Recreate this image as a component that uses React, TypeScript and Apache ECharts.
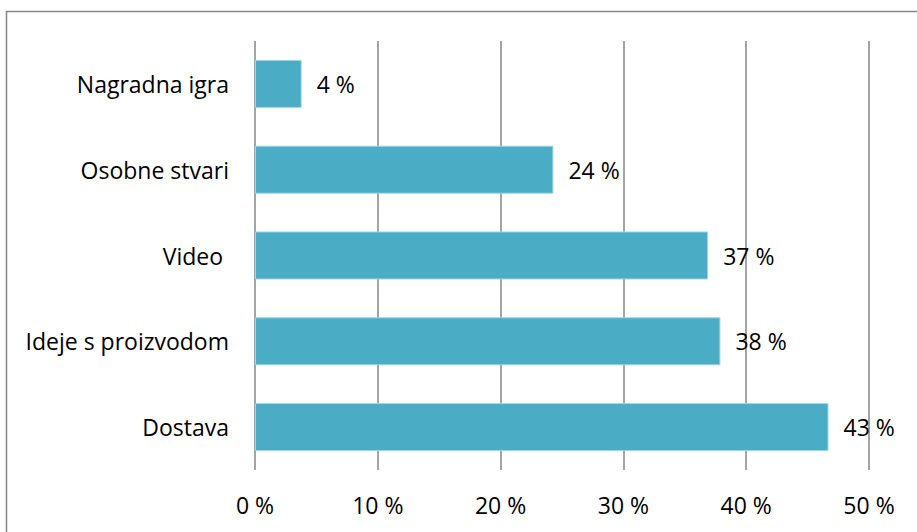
import React, { useEffect, useRef } from "react";
import * as echarts from "echarts";

const categories = ["Nagradna igra", "Osobne stvari", "Video ", "Ideje s proizvodom", "Dostava"];
const barValues = [3.8, 24.3, 36.9, 37.9, 46.7];
const labelTexts = ["4 %", "24 %", "37 %", "38 %", "43 %"];
const tickValues = [0, 10, 20, 30, 40, 50];

export default function App() {
  const ref = useRef<HTMLDivElement>(null);
  useEffect(() => {
    if (!ref.current) return;
    const chart = echarts.init(ref.current, null, { renderer: "svg" });
    const font = "'Open Sans', 'Noto Sans', sans-serif";
    const fs = 23;
    chart.setOption({
      animation: false,
      backgroundColor: "#ffffff",
      textStyle: { fontFamily: font },
      graphic: [
        {
          type: "rect",
          shape: { x: 6.5, y: 11.5, width: 920, height: 540 },
          style: { fill: "none", stroke: "#868686", lineWidth: 1.5 },
          silent: true,
        },
      ],
      grid: { left: 255, right: 48, top: 41, bottom: 62 },
      xAxis: {
        type: "value",
        min: tickValues[0],
        max: tickValues[tickValues.length - 1],
        interval: 10,
        axisLine: { show: false },
        axisTick: { show: false },
        splitLine: { show: true, lineStyle: { color: "#868686", width: 1.5 } },
        axisLabel: {
          color: "#000",
          fontSize: fs,
          fontFamily: font,
          margin: 23,
          formatter: (v: number) => `${v} %`,
        },
      },
      yAxis: {
        type: "category",
        inverse: true,
        data: categories,
        axisLine: { show: false },
        axisTick: { show: false },
        splitLine: { show: false },
        axisLabel: { color: "#000", fontSize: fs, fontFamily: font, margin: 26 },
      },
      series: [
        {
          type: "bar",
          data: barValues,
          barWidth: "56%",
          itemStyle: { color: "#4BACC6", borderColor: "#A5D3E1", borderWidth: 1 },
          label: {
            show: true,
            position: "right",
            distance: 15,
            color: "#000",
            fontSize: fs,
            fontFamily: font,
            formatter: (p: any) => labelTexts[p.dataIndex],
          },
        },
      ],
    });
    return () => chart.dispose();
  }, []);
  return (
    <div
      ref={ref}
      style={{ position: "fixed", left: 0, top: 0, width: 917, height: 532 }}
    />
  );
}
